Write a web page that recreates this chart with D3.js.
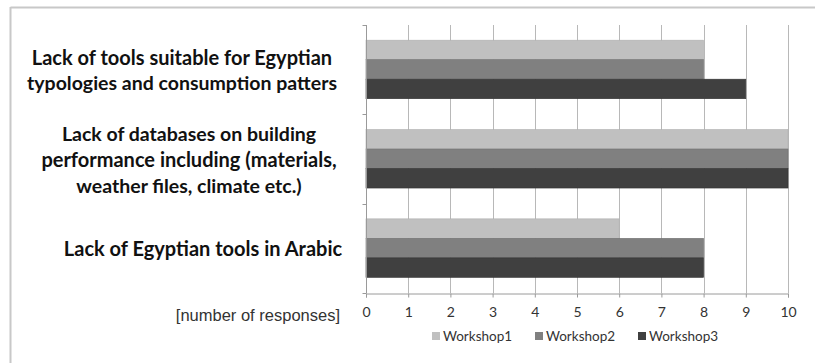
<!DOCTYPE html>
<html>
<head>
<meta charset="utf-8">
<script src="https://cdn.jsdelivr.net/npm/d3@7/dist/d3.min.js"></script>
<style>
  html, body { margin: 0; padding: 0; background: #fff; }
  svg { display: block; }
</style>
</head>
<body>
<svg id="chart" width="815" height="363"></svg>
<script>
// Barriers to using building-performance tools, responses per workshop
const categories = [
  "Lack of tools suitable for Egyptian typologies and consumption patters",
  "Lack of databases on building performance including (materials, weather files,  climate etc.)",
  "Lack of Egyptian tools in Arabic"
];
const categoryLines = [
  ["Lack of tools suitable for Egyptian", "typologies and consumption patters"],
  ["Lack of databases on building", "performance including (materials,", "weather files,  climate etc.)"],
  ["Lack of Egyptian tools in Arabic"]
];
const seriesNames = ["Workshop1", "Workshop2", "Workshop3"];
const workshop1 = [8, 10, 6];
const workshop2 = [8, 10, 8];
const workshop3 = [9, 10, 8];
const seriesValues = [workshop1, workshop2, workshop3];
const xTicks = [0, 1, 2, 3, 4, 5, 6, 7, 8, 9, 10];
const axisTitle = "[number of responses]";

const colors = ["#c0c0c0", "#808080", "#404040"];
const strokes = ["#b0b0b0", "#707070", "#333333"];

const svg = d3.select("#chart");

// outer frame (top and left edges)
svg.append("line").attr("x1", 10.5).attr("x2", 815).attr("y1", 7.5).attr("y2", 7.5)
  .attr("stroke", "#c8c8c8").attr("stroke-width", 2);
svg.append("line").attr("x1", 10.5).attr("x2", 10.5).attr("y1", 7).attr("y2", 363)
  .attr("stroke", "#c8c8c8").attr("stroke-width", 2);

const plot = { left: 366, right: 788, top: 25, bottom: 293 };

const x = d3.scaleLinear().domain([0, 10]).range([plot.left, plot.right]);
const y = d3.scaleBand().domain(categories).range([plot.top, plot.bottom]).padding(0);
const ySub = d3.scaleBand().domain(seriesNames)
  .range([y.bandwidth() * 0.17, y.bandwidth() * 0.825]).padding(0);

// vertical gridlines
svg.append("g").selectAll("line").data(xTicks.slice(1)).join("line")
  .attr("x1", d => Math.round(x(d)) + 0.5).attr("x2", d => Math.round(x(d)) + 0.5)
  .attr("y1", plot.top).attr("y2", plot.bottom)
  .attr("stroke", "#b8b8b8").attr("stroke-width", 1);

// bars
const groups = svg.append("g").selectAll("g").data(categories).join("g")
  .attr("transform", d => `translate(0,${y(d)})`);
groups.selectAll("rect")
  .data((c, i) => seriesNames.map((s, j) => ({ s, j, v: seriesValues[j][i] })))
  .join("rect")
  .attr("x", x(0))
  .attr("y", d => ySub(d.s))
  .attr("width", d => x(d.v) - x(0))
  .attr("height", ySub.bandwidth())
  .attr("fill", d => colors[d.j])
  .attr("stroke", d => strokes[d.j])
  .attr("stroke-width", 0.6);

// x axis
const xAxis = d3.axisBottom(x).tickValues(xTicks).tickSize(4).tickPadding(10).tickFormat(d3.format("d"));
const gx = svg.append("g").attr("transform", `translate(0,${plot.bottom + 0.5})`).call(xAxis);
gx.select(".domain").attr("stroke", "#9a9a9a");
gx.selectAll(".tick line").attr("stroke", "#9a9a9a");
gx.selectAll(".tick text").attr("fill", "#333").style("font-family", "Lato, 'Open Sans', sans-serif")
  .style("font-size", "14px");

// y axis (category boundaries only)
const yAxis = d3.axisLeft(y).tickSize(0).tickFormat("");
const gy = svg.append("g").attr("transform", `translate(${plot.left + 0.5},0)`).call(yAxis);
gy.select(".domain").attr("stroke", "#9a9a9a").attr("d", `M0,${plot.top}V${plot.bottom}`);
const bounds = [plot.top, ...categories.map(c => y(c) + y.bandwidth())];
gy.selectAll(".bound").data(bounds).join("line").attr("class", "bound")
  .attr("x1", -4).attr("x2", 0).attr("y1", d => Math.round(d) + 0.5).attr("y2", d => Math.round(d) + 0.5)
  .attr("stroke", "#9a9a9a");

// category labels, each block centred in the space left of the axis
const lineSizes = [[20, 19.5], [19.5, 20, 19.5], [20]];
const labelCentres = [182, 189, 203];
const lineGap = 26;
categoryLines.forEach((lines, i) => {
  const cy = y(categories[i]) + y.bandwidth() / 2 + 1;
  const t = svg.append("text")
    .attr("text-anchor", "middle")
    .style("font-family", "Lato, 'Open Sans', sans-serif")
    .style("font-weight", "bold")
    .attr("fill", "#111");
  lines.forEach((ln, k) => {
    t.append("tspan")
      .attr("x", labelCentres[i])
      .attr("y", cy + (k - (lines.length - 1) / 2) * lineGap)
      .attr("dy", "0.35em")
      .style("font-size", lineSizes[i][k] + "px")
      .text(ln);
  });
});

// axis title
svg.append("text")
  .attr("x", 340).attr("y", plot.bottom + 22)
  .attr("dy", "0.35em")
  .attr("text-anchor", "end")
  .style("font-family", "'Liberation Sans', Arial, sans-serif")
  .style("font-size", "16.5px")
  .attr("fill", "#333")
  .text(axisTitle);

// legend
const legendX = [432, 535, 638];
const legend = svg.append("g").selectAll("g").data(seriesNames).join("g")
  .attr("transform", (d, i) => `translate(${legendX[i]},336)`);
legend.append("rect").attr("x", 0).attr("y", -4).attr("width", 8).attr("height", 8)
  .attr("fill", (d, i) => colors[i]);
legend.append("text").attr("x", 11).attr("dy", "0.35em")
  .style("font-family", "Lato, 'Open Sans', sans-serif").style("font-size", "13.5px")
  .attr("fill", "#333").text(d => d);
</script>
</body>
</html>
